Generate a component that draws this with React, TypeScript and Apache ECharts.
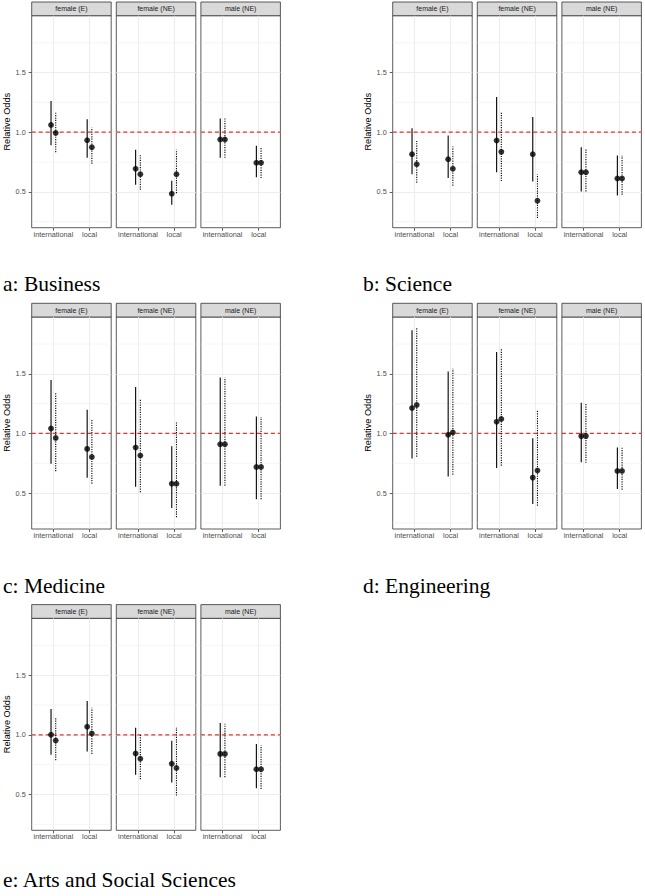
import React, { useEffect, useRef } from 'react';
import * as echarts from 'echarts';

// ---------- data ----------
const panelTitles = ['a: Business', 'b: Science', 'c: Medicine', 'd: Engineering', 'e: Arts and Social Sciences'];
const facetNames = ['female (E)', 'female (NE)', 'male (NE)'];
const originTypes = ['international', 'local'];
const yTicks = [0.5, 1.0, 1.5];
const yMinorTicks = [0.25, 0.75, 1.25, 1.75];
const referenceOdds = 1;
const dataRange = [0.28, 1.896];

// order per facet: international(solid, dotted), local(solid, dotted)
const businessEst = [1.061, 0.994, 0.933, 0.874, 0.693, 0.648, 0.484, 0.648, 0.939, 0.939, 0.743, 0.743];
const businessLo = [0.891, 0.832, 0.785, 0.735, 0.559, 0.517, 0.391, 0.489, 0.785, 0.785, 0.623, 0.615];
const businessHi = [1.262, 1.168, 1.109, 1.039, 0.852, 0.807, 0.592, 0.852, 1.114, 1.114, 0.886, 0.874];

const scienceEst = [0.816, 0.732, 0.774, 0.693, 0.930, 0.835, 0.816, 0.425, 0.665, 0.665, 0.612, 0.612];
const scienceLo = [0.648, 0.576, 0.615, 0.551, 0.665, 0.590, 0.587, 0.280, 0.503, 0.503, 0.470, 0.475];
const scienceHi = [1.034, 0.927, 0.972, 0.880, 1.296, 1.165, 1.128, 0.648, 0.874, 0.866, 0.805, 0.802];

const medicineEst = [1.042, 0.963, 0.871, 0.803, 0.882, 0.815, 0.579, 0.579, 0.910, 0.910, 0.719, 0.719];
const medicineLo = [0.747, 0.683, 0.629, 0.579, 0.553, 0.508, 0.376, 0.298, 0.562, 0.562, 0.449, 0.449];
const medicineHi = [1.449, 1.343, 1.199, 1.115, 1.390, 1.289, 0.893, 1.101, 1.469, 1.469, 1.143, 1.138];

const engineeringEst = [1.213, 1.239, 0.989, 1.008, 1.098, 1.122, 0.630, 0.689, 0.978, 0.978, 0.686, 0.686];
const engineeringLo = [0.790, 0.806, 0.640, 0.654, 0.710, 0.730, 0.409, 0.395, 0.759, 0.754, 0.535, 0.529];
const engineeringHi = [1.865, 1.893, 1.520, 1.542, 1.683, 1.710, 0.961, 1.193, 1.258, 1.258, 0.882, 0.888];

const artsEst = [1.000, 0.952, 1.067, 1.011, 0.843, 0.800, 0.757, 0.722, 0.840, 0.840, 0.712, 0.712];
const artsLo = [0.832, 0.787, 0.860, 0.840, 0.665, 0.627, 0.600, 0.490, 0.644, 0.644, 0.552, 0.546];
const artsHi = [1.216, 1.148, 1.283, 1.227, 1.060, 1.000, 0.950, 1.060, 1.098, 1.092, 0.922, 0.913];

const panelEst = [businessEst, scienceEst, medicineEst, engineeringEst, artsEst];
const panelLo = [businessLo, scienceLo, medicineLo, engineeringLo, artsLo];
const panelHi = [businessHi, scienceHi, medicineHi, engineeringHi, artsHi];

// ---------- layout ----------
const COL_LEFT = [31.7, 392.7];
const ROW_TOP = [15.7, 317.0, 618.3];
const FACET_W = 79.5;
const FACET_PITCH = 84.6;
const PLOT_H = 212;
const STRIP_H = 13.7;
const TITLE_X = [3, 363];
const TITLE_Y = [283.6, 586.2, 879.6];
const DODGE = 0.065;

const SANS = "'Liberation Sans', Arial, Helvetica, sans-serif";
const SERIF = "'Liberation Serif', 'Times New Roman', serif";

function buildOption() {
  const span = dataRange[1] - dataRange[0];
  const yMin = dataRange[0] - 0.05 * span;
  const yMax = dataRange[1] + 0.05 * span;

  const grids: any[] = [];
  const xAxes: any[] = [];
  const yAxes: any[] = [];
  const series: any[] = [];
  const graphics: any[] = [];

  const guideData = [
    ...yMinorTicks.map((v) => [v, 0]),
    [referenceOdds, 1],
  ];

  panelTitles.forEach((title, p) => {
    const row = Math.floor(p / 2);
    const col = p % 2;
    graphics.push({
      type: 'text',
      x: TITLE_X[col],
      y: TITLE_Y[row],
      style: {
        text: title,
        fontSize: 21.5,
        fontFamily: SERIF,
        fill: '#000',
        align: 'left',
        verticalAlign: 'middle',
        textAlign: 'left',
        textVerticalAlign: 'middle',
      },
    });

    facetNames.forEach((facet, f) => {
      const idx = p * 3 + f;
      const left = COL_LEFT[col] + f * FACET_PITCH;
      const top = ROW_TOP[row];
      grids.push({
        left,
        top,
        width: FACET_W,
        height: PLOT_H,
        show: true,
        backgroundColor: '#ffffff',
        borderColor: '#333333',
        borderWidth: 0.8,
      });
      xAxes.push({
        gridIndex: idx,
        type: 'value',
        min: 0.4,
        max: 2.6,
        axisLine: { show: false },
        axisTick: { show: true, customValues: [1, 2], length: 3, lineStyle: { color: '#333333', width: 0.8 } },
        axisLabel: {
          show: true,
          customValues: [1, 2],
          formatter: (v: number) => originTypes[Math.round(v) - 1] || '',
          fontSize: 7.3,
          color: '#4d4d4d',
          fontFamily: SANS,
          margin: 3,
        },
        splitLine: { show: true, lineStyle: { color: '#ebebeb', width: 0.9 } },
      });
      yAxes.push({
        gridIndex: idx,
        type: 'value',
        min: yMin,
        max: yMax,
        axisLine: { show: false },
        axisTick: { show: f === 0, customValues: yTicks, length: 3, lineStyle: { color: '#333333', width: 0.8 } },
        axisLabel: {
          show: f === 0,
          customValues: yTicks,
          formatter: (v: number) => v.toFixed(1),
          fontSize: 7.3,
          color: '#4d4d4d',
          fontFamily: SANS,
          margin: 6,
        },
        splitLine: { show: true, lineStyle: { color: '#ebebeb', width: 0.9 } },
        name: f === 0 ? 'Relative Odds' : '',
        nameLocation: 'middle',
        nameGap: 12,
        nameTextStyle: { fontSize: 9.2, color: '#000', fontFamily: SANS },
      });

      // minor grid lines + reference line
      series.push({
        type: 'custom',
        xAxisIndex: idx,
        yAxisIndex: idx,
        silent: true,
        z: 1,
        clip: true,
        encode: { y: 0 },
        data: guideData,
        renderItem: (params: any, api: any) => {
          const v = api.value(0);
          const kind = api.value(1);
          const cs = params.coordSys;
          const y = api.coord([1, v])[1];
          return {
            type: 'line',
            shape: { x1: cs.x, y1: y, x2: cs.x + cs.width, y2: y },
            style:
              kind === 1
                ? { stroke: '#e8322e', lineWidth: 1.25, lineDash: [4, 3] }
                : { stroke: '#ebebeb', lineWidth: 0.5 },
          };
        },
      });

      const bars: any[] = [];
      const pts: any[] = [];
      originTypes.forEach((_, t) => {
        [0, 1].forEach((m) => {
          const k = f * 4 + t * 2 + m;
          const x = t + 1 + (m === 0 ? -DODGE : DODGE);
          bars.push([x, panelLo[p][k], panelHi[p][k], m]);
          pts.push([x, panelEst[p][k]]);
        });
      });

      series.push({
        type: 'custom',
        xAxisIndex: idx,
        yAxisIndex: idx,
        silent: true,
        z: 3,
        encode: { x: 0, y: [1, 2] },
        data: bars,
        renderItem: (params: any, api: any) => {
          const x = api.value(0);
          const a = api.coord([x, api.value(1)]);
          const b = api.coord([x, api.value(2)]);
          const dotted = api.value(3) === 1;
          return {
            type: 'line',
            shape: { x1: a[0], y1: a[1], x2: b[0], y2: b[1] },
            style: {
              stroke: '#000',
              lineWidth: 1.1,
              lineDash: dotted ? [1.2, 1.2] : null,
            },
          };
        },
      });

      series.push({
        type: 'scatter',
        xAxisIndex: idx,
        yAxisIndex: idx,
        silent: true,
        z: 4,
        symbol: 'circle',
        symbolSize: 5.8,
        itemStyle: { color: '#000' },
        data: pts,
      });

      graphics.push({
        type: 'rect',
        shape: { x: left, y: top - STRIP_H, width: FACET_W, height: STRIP_H },
        style: { fill: '#d9d9d9', stroke: '#333333', lineWidth: 0.8 },
      });
      graphics.push({
        type: 'text',
        x: left + FACET_W / 2,
        y: top - STRIP_H / 2,
        style: {
          text: facet,
          fontSize: 7,
          fontFamily: SANS,
          fill: '#1a1a1a',
          align: 'center',
          verticalAlign: 'middle',
          textAlign: 'center',
          textVerticalAlign: 'middle',
        },
      });
    });
  });

  return {
    animation: false,
    backgroundColor: '#ffffff',
    grid: grids,
    xAxis: xAxes,
    yAxis: yAxes,
    series,
    graphic: graphics,
  };
}

export default function App() {
  const ref = useRef<HTMLDivElement>(null);
  useEffect(() => {
    if (!ref.current) return;
    const chart = echarts.init(ref.current, undefined, { renderer: 'svg' });
    chart.setOption(buildOption() as any);
    return () => chart.dispose();
  }, []);
  return (
    <div
      ref={ref}
      style={{ position: 'absolute', left: 0, top: 0, width: 645, height: 896, background: '#fff' }}
    />
  );
}
